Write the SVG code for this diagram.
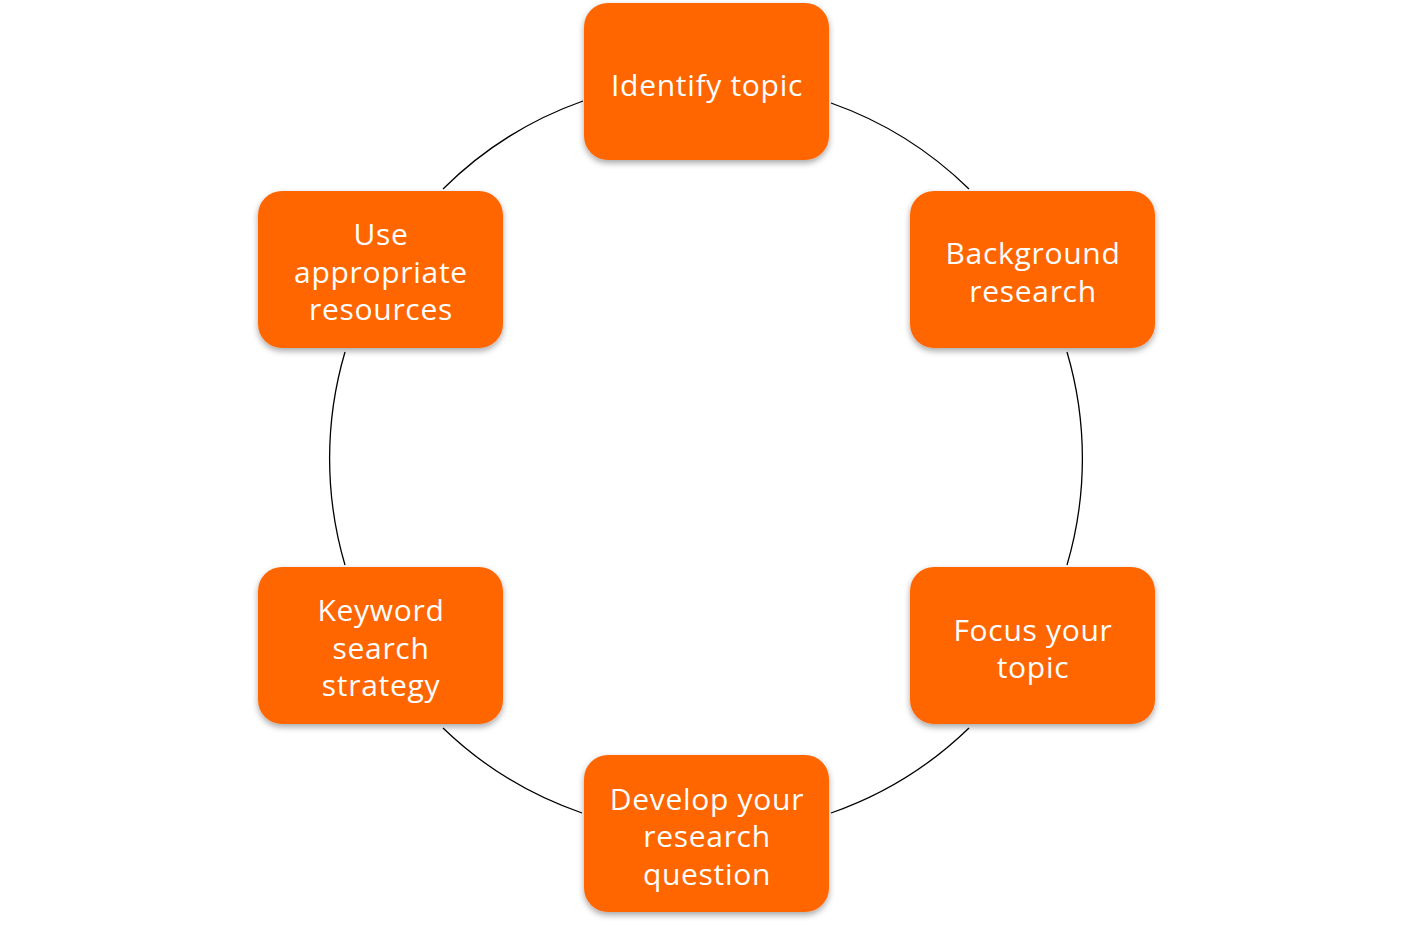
<svg xmlns="http://www.w3.org/2000/svg" width="1413" height="926" viewBox="0 0 1413 926">
<style>
.box{fill:#FF6600;}
.lbl{font-family:"Open Sans","Liberation Sans",sans-serif;font-size:30px;letter-spacing:0.7px;fill:#FFFFFF;text-anchor:middle;}
.arc{fill:none;stroke:#000000;stroke-width:1.3;}
</style>
<defs>
<filter id="sh" x="-10%" y="-10%" width="120%" height="125%">
<feDropShadow dx="0" dy="3" stdDeviation="3" flood-color="#000000" flood-opacity="0.35"/>
</filter>
</defs>
<rect width="1413" height="926" fill="#FFFFFF"/>
<g id="connectors">
<path class="arc" d="M831,103 A376,376 0 0 1 969,189"/>
<path class="arc" d="M1067,352 A376,376 0 0 1 1067,565"/>
<path class="arc" d="M969,728 A376,376 0 0 1 831,813"/>
<path class="arc" d="M582,813 A376,376 0 0 1 443,728"/>
<path class="arc" d="M345,565 A376,376 0 0 1 345,352"/>
<path class="arc" d="M443,189 A376,376 0 0 1 583,101"/>
</g>
<g id="n1"><rect class="box" filter="url(#sh)" x="584" y="3" width="245" height="157" rx="24"/><text class="lbl" x="707" y="96">Identify topic</text></g>
<g id="n2"><rect class="box" filter="url(#sh)" x="910" y="191" width="245" height="157" rx="24"/><text class="lbl" x="1033" y="264">Background</text><text class="lbl" x="1033" y="302">research</text></g>
<g id="n3"><rect class="box" filter="url(#sh)" x="910" y="567" width="245" height="157" rx="24"/><text class="lbl" x="1033" y="641">Focus your</text><text class="lbl" x="1033" y="678">topic</text></g>
<g id="n4"><rect class="box" filter="url(#sh)" x="584" y="755" width="245" height="157" rx="24"/><text class="lbl" x="707" y="810">Develop your</text><text class="lbl" x="707" y="847">research</text><text class="lbl" x="707" y="885">question</text></g>
<g id="n5"><rect class="box" filter="url(#sh)" x="258" y="567" width="245" height="157" rx="24"/><text class="lbl" x="381" y="621">Keyword</text><text class="lbl" x="381" y="659">search</text><text class="lbl" x="381" y="696">strategy</text></g>
<g id="n6"><rect class="box" filter="url(#sh)" x="258" y="191" width="245" height="157" rx="24"/><text class="lbl" x="381" y="245">Use</text><text class="lbl" x="381" y="283">appropriate</text><text class="lbl" x="381" y="320">resources</text></g>
</svg>
